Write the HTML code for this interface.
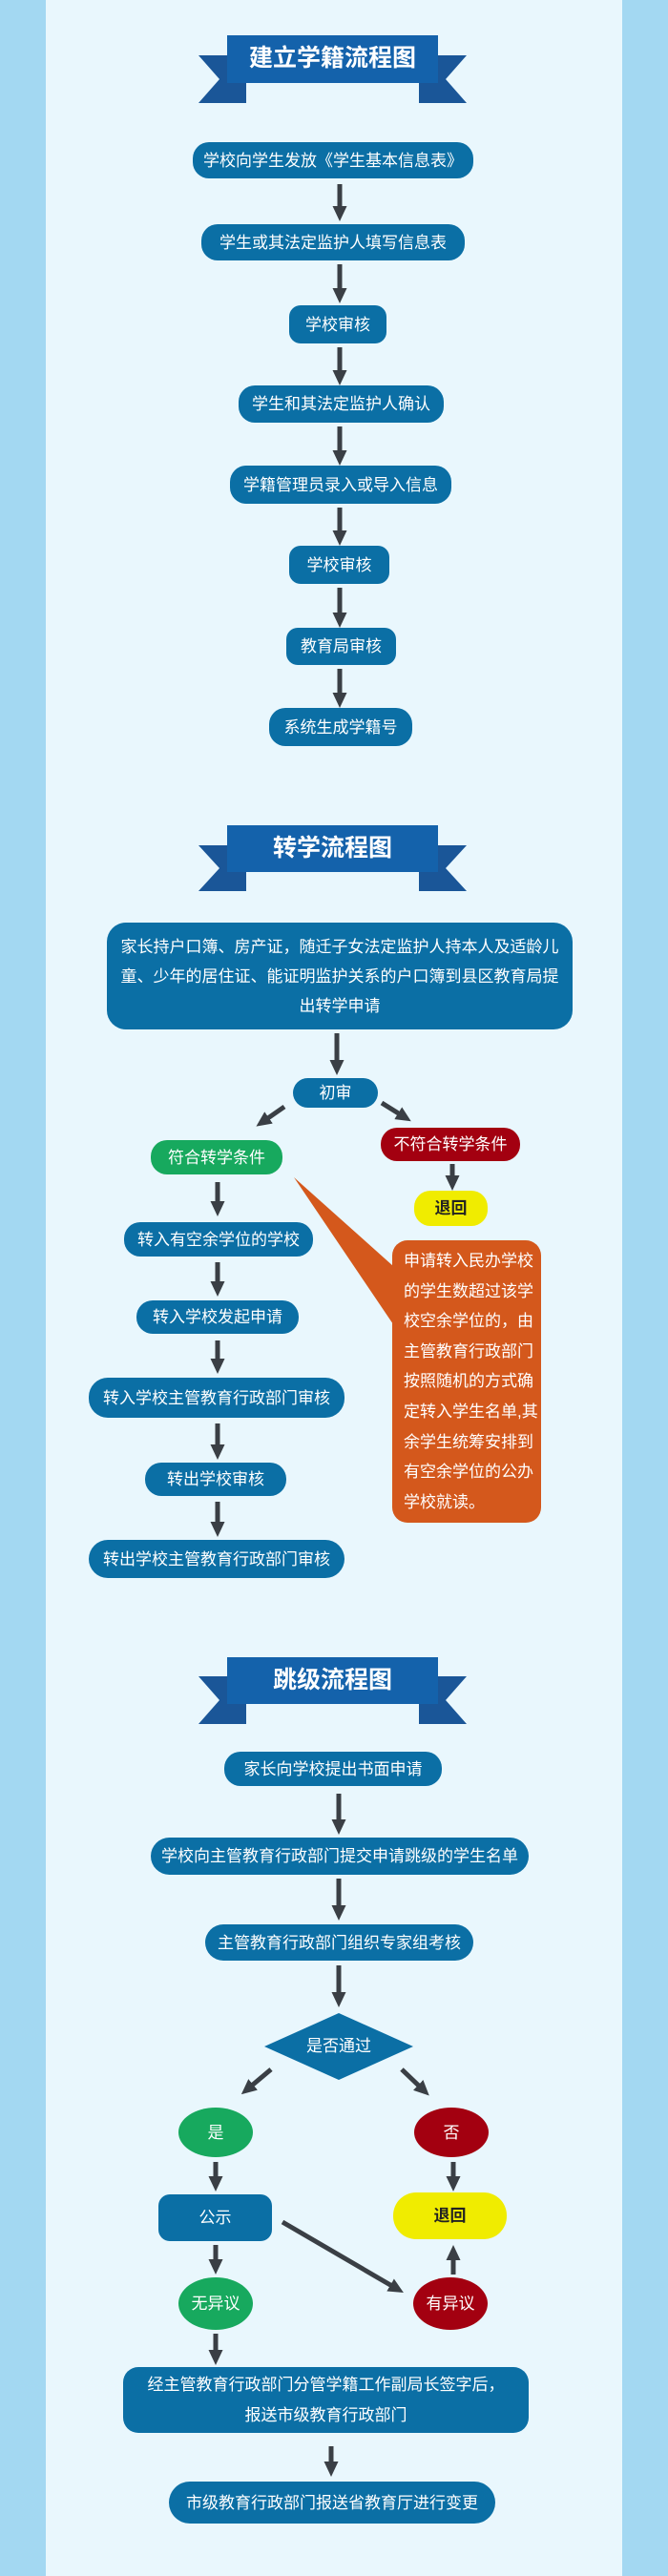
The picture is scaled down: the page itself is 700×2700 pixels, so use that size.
<!DOCTYPE html>
<html><head><meta charset="utf-8"><style>
*{margin:0;padding:0;box-sizing:border-box}
body{width:700px;height:2700px;position:relative;background:#a3d8f2;font-family:"Liberation Sans","Noto Sans CJK SC",sans-serif;overflow:hidden}
#main{position:absolute;left:48px;top:0;width:604px;height:2700px;background:#e9f7fd}
svg{position:absolute;left:0;top:0}
.b{position:absolute;display:flex;align-items:center;justify-content:center;color:#fff;font-size:17px;background:#0b6fa5;border-radius:17px;white-space:nowrap;text-align:center;line-height:31px}
.t{position:absolute;color:#fff;font-weight:bold;font-size:25px;text-align:center;width:221px;left:238px;line-height:49px}
.g{background:#17a95e}.r{background:#a30010}.y{background:#f0ec00;color:#222;font-weight:bold}
.e{border-radius:50%}
</style></head><body>
<div id="main"></div>
<svg width="700" height="2700" viewBox="0 0 700 2700">
<defs><marker id="a" markerWidth="3.2" markerHeight="3" refX="1.6" refY="1.5" orient="auto"><path d="M0,0L3.2,1.5L0,3z" fill="#3a3f45"/></marker></defs>
<g fill="#1a5698">
<path d="M208,58H258V108H208L230,83Z"/><path d="M489,58H439V108H489L467,83Z"/>
<path d="M208,886H258V934H208L230,910Z"/><path d="M489,886H439V934H489L467,910Z"/>
<path d="M208,1757H258V1807H208L230,1782Z"/><path d="M489,1757H439V1807H489L467,1782Z"/>
</g>
<g fill="#1462ab">
<rect x="238" y="37" width="221" height="50"/>
<rect x="238" y="865" width="221" height="49"/>
<rect x="238" y="1737" width="221" height="49"/>
</g>
<polygon points="308,1234 412,1327 412,1388" fill="#d4581c"/>
<polygon points="355,2110 433,2145 355,2180 277,2145" fill="#0b6fa5"/>
<g stroke="#3a3f45" stroke-width="5" marker-end="url(#a)" fill="none">
<line x1="356" y1="193" x2="356" y2="224"/>
<line x1="356" y1="277" x2="356" y2="310"/>
<line x1="356" y1="364" x2="356" y2="396"/>
<line x1="356" y1="447" x2="356" y2="480"/>
<line x1="356" y1="532" x2="356" y2="564"/>
<line x1="356" y1="616" x2="356" y2="650"/>
<line x1="356" y1="701" x2="356" y2="734"/>
<line x1="353" y1="1083" x2="353" y2="1119"/>
<line x1="298" y1="1160" x2="275" y2="1176"/>
<line x1="400" y1="1156" x2="424" y2="1171"/>
<line x1="474" y1="1220" x2="474" y2="1240"/>
<line x1="228" y1="1239" x2="228" y2="1267"/>
<line x1="228" y1="1323" x2="228" y2="1351"/>
<line x1="228" y1="1405" x2="228" y2="1432"/>
<line x1="228" y1="1492" x2="228" y2="1522"/>
<line x1="228" y1="1574" x2="228" y2="1603"/>
<line x1="355" y1="1880" x2="355" y2="1915"/>
<line x1="355" y1="1969" x2="355" y2="2005"/>
<line x1="355" y1="2060" x2="355" y2="2096"/>
<line x1="284" y1="2169" x2="259" y2="2190"/>
<line x1="421" y1="2169" x2="444" y2="2191"/>
<line x1="226" y1="2266" x2="226" y2="2289"/>
<line x1="475" y1="2266" x2="475" y2="2289"/>
<line x1="226" y1="2353" x2="226" y2="2376"/>
<line x1="475" y1="2384" x2="475" y2="2361"/>
<line x1="296" y1="2329" x2="416" y2="2399"/>
<line x1="226" y1="2446" x2="226" y2="2471"/>
<line x1="347" y1="2564" x2="347" y2="2588"/>
</g>
</svg>
<div class="t" style="top:37px">建立学籍流程图</div>
<div class="t" style="top:865px">转学流程图</div>
<div class="t" style="top:1737px">跳级流程图</div>

<div class="b" style="left:202px;top:149px;width:294px;height:38px">学校向学生发放《学生基本信息表》</div>
<div class="b" style="left:211px;top:235px;width:276px;height:38px">学生或其法定监护人填写信息表</div>
<div class="b" style="left:303px;top:320px;width:102px;height:40px;border-radius:12px">学校审核</div>
<div class="b" style="left:250px;top:404px;width:215px;height:39px">学生和其法定监护人确认</div>
<div class="b" style="left:241px;top:488px;width:232px;height:40px">学籍管理员录入或导入信息</div>
<div class="b" style="left:303px;top:572px;width:105px;height:40px;border-radius:12px">学校审核</div>
<div class="b" style="left:300px;top:658px;width:115px;height:39px;border-radius:12px">教育局审核</div>
<div class="b" style="left:282px;top:742px;width:150px;height:40px">系统生成学籍号</div>

<div class="b" style="left:112px;top:967px;width:488px;height:112px;border-radius:20px;white-space:normal;padding:0 10px">家长持户口簿、房产证，随迁子女法定监护人持本人及适龄儿童、少年的居住证、能证明监护关系的户口簿到县区教育局提出转学申请</div>
<div class="b" style="left:307px;top:1130px;width:89px;height:31px">初审</div>
<div class="b g" style="left:158px;top:1195px;width:138px;height:36px">符合转学条件</div>
<div class="b r" style="left:399px;top:1182px;width:146px;height:35px">不符合转学条件</div>
<div class="b y" style="left:434px;top:1248px;width:77px;height:37px;font-weight:bold">退回</div>
<div class="b" style="left:411px;top:1300px;width:156px;height:296px;border-radius:16px;background:#d4581c;white-space:normal;align-items:flex-start;justify-content:flex-start;text-align:left;padding:6px 2px 0 12px;line-height:31.6px">申请转入民办学校的学生数超过该学校空余学位的，由主管教育行政部门按照随机的方式确定转入学生名单,其余学生统筹安排到有空余学位的公办学校就读。</div>
<div class="b" style="left:130px;top:1281px;width:198px;height:36px">转入有空余学位的学校</div>
<div class="b" style="left:143px;top:1363px;width:170px;height:35px">转入学校发起申请</div>
<div class="b" style="left:93px;top:1444px;width:268px;height:42px;border-radius:20px">转入学校主管教育行政部门审核</div>
<div class="b" style="left:152px;top:1533px;width:148px;height:35px">转出学校审核</div>
<div class="b" style="left:93px;top:1614px;width:268px;height:40px;border-radius:20px">转出学校主管教育行政部门审核</div>

<div class="b" style="left:235px;top:1836px;width:228px;height:36px">家长向学校提出书面申请</div>
<div class="b" style="left:158px;top:1926px;width:396px;height:39px;border-radius:20px">学校向主管教育行政部门提交申请跳级的学生名单</div>
<div class="b" style="left:215px;top:2017px;width:281px;height:38px;border-radius:20px">主管教育行政部门组织专家组考核</div>
<div style="position:absolute;left:277px;top:2130px;width:156px;text-align:center;color:#fff;font-size:17px;line-height:30px">是否通过</div>
<div class="b g e" style="left:187px;top:2209px;width:78px;height:52px">是</div>
<div class="b r e" style="left:434px;top:2209px;width:78px;height:52px">否</div>
<div class="b" style="left:166px;top:2300px;width:119px;height:49px;border-radius:12px">公示</div>
<div class="b y" style="left:412px;top:2298px;width:119px;height:49px;border-radius:24px">退回</div>
<div class="b g e" style="left:187px;top:2387px;width:78px;height:55px">无异议</div>
<div class="b r e" style="left:433px;top:2387px;width:78px;height:55px">有异议</div>
<div class="b" style="left:129px;top:2481px;width:425px;height:69px;border-radius:16px;white-space:normal;line-height:32px;padding:0 15px">经主管教育行政部门分管学籍工作副局长签字后，<br>报送市级教育行政部门</div>
<div class="b" style="left:177px;top:2601px;width:342px;height:44px;border-radius:22px">市级教育行政部门报送省教育厅进行变更</div>
</body></html>
